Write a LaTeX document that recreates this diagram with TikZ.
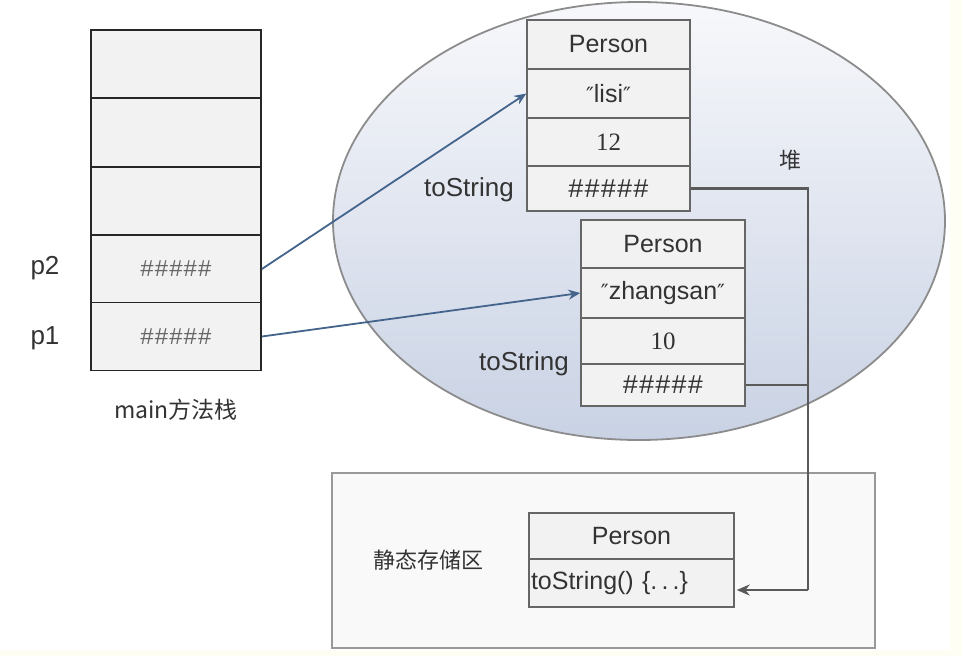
\documentclass[tikz,border=0pt]{standalone}
\usepackage{fontspec}
\setmainfont{Liberation Sans}
\newfontfamily\cjk{Noto Sans CJK SC}
\newfontfamily\numf{Liberation Serif}
\newfontfamily\monof{Liberation Mono}
\newfontfamily\djv{DejaVu Sans}
\usetikzlibrary{arrows.meta}
\definecolor{cellfill}{HTML}{F2F2F2}
\definecolor{celldraw}{HTML}{666666}
\definecolor{bluearrow}{HTML}{44648C}
\definecolor{graywire}{HTML}{5A5A5A}
\definecolor{ellbot}{HTML}{C9D2E4}
\definecolor{elltop}{HTML}{F7F8FB}
\definecolor{txt}{HTML}{333333}
\tikzset{
  cell/.style={draw=celldraw, line width=1.4pt, fill=cellfill, inner sep=0pt, text=txt, font=\fontsize{25}{28}\selectfont},
  hashcell/.style={cell, font=\monof\fontsize{27}{29}\selectfont},
  numcell/.style={cell, font=\numf\fontsize{25}{27}\selectfont},
  stackcell/.style={draw=black!85, line width=1.8pt, fill=cellfill, inner sep=0pt, minimum width=170pt, minimum height=68pt, font=\monof\fontsize{24}{26}\selectfont, text=black!60},
  lbl/.style={text=txt, font=\fontsize{26}{29}\selectfont},
  cjklbl/.style={text=txt, font=\cjk\fontsize{22}{26}\selectfont},
  bluearr/.style={draw=bluearrow, line width=1.8pt, -{Stealth[length=12pt,width=10pt]}},
  grayarr/.style={draw=graywire, line width=2.4pt},
}
\begin{document}
\begin{tikzpicture}[x=1pt,y=-1pt]
\useasboundingbox (0,0) rectangle (962,656);
\fill[white] (0,0) rectangle (962,656);
\fill[yellow!4] (950,0) rectangle (962,656);
\fill[yellow!4] (0,650) rectangle (962,656);
% heap ellipse
\shade[top color=elltop, bottom color=ellbot, draw=gray!90, line width=1.8pt] (639,221) ellipse [x radius=306, y radius=219];
% static area
\node[draw=gray!80, line width=1.4pt, fill=gray!5, minimum width=543pt, minimum height=175pt, inner sep=0pt] (static) at (603.5,560.5) {};
% stack
\node[stackcell] (s5) at (176,64) {};
\node[stackcell] (s4) at (176,132.5) {};
\node[stackcell] (s3) at (176,201) {};
\node[stackcell] (s2) at (176,269) {\#\#\#\#\#};
\node[stackcell] (s1) at (176,336.5) {\#\#\#\#\#};
\node[lbl] (p2) at (45,268) {p2};
\node[lbl] (p1) at (45,338) {p1};
\node[cjklbl, font=\cjk\fontsize{23}{26}\selectfont] (mainlbl) at (176,410) {main方法栈};
% person 1
\node[cell, minimum width=163pt, minimum height=49pt] (a1) at (608.5,44.5) {Person};
\node[cell, minimum width=163pt, minimum height=49pt] (a2) at (608.5,93.5) {{\djv\fontsize{21}{23}\selectfont ″}lisi{\djv\fontsize{21}{23}\selectfont ″}};
\node[numcell, minimum width=163pt, minimum height=48pt] (a3) at (608.5,142) {12};
\node[hashcell, minimum width=163pt, minimum height=45pt] (a4) at (608.5,188.5) {\#\#\#\#\#};
\node[lbl] (ts1) at (469,190) {toString};
\node[cjklbl] (dui) at (790,160) {堆};
% person 2
\node[cell, minimum width=164pt, minimum height=48pt] (b1) at (663,244) {Person};
\node[cell, minimum width=164pt, minimum height=50pt] (b2) at (663,293) {{\djv\fontsize{21}{23}\selectfont ″}zhangsan{\djv\fontsize{21}{23}\selectfont ″}};
\node[numcell, minimum width=164pt, minimum height=46pt] (b3) at (663,341) {10};
\node[hashcell, minimum width=164pt, minimum height=42pt] (b4) at (663,385) {\#\#\#\#\#};
\node[lbl] (ts2) at (524,364) {toString};
% static person
\node[cell, minimum width=205pt, minimum height=46pt] (c1) at (631.5,536) {Person};
\node[cell, minimum width=205pt, minimum height=48pt, text width=201pt, align=left] (c2) at (631.5,583) {toString() \{.\,.\,.\}};
\node[cjklbl] (jt) at (428,560) {静态存储区};
% arrows
\draw[bluearr] (s2.east) -- (a2.west);
\draw[bluearr] (s1.east) -- (b2.west);
\coordinate (j1) at (808,188.5);
\coordinate (j2) at (808,590);
\draw[grayarr] (a4.east) -- (j1) -- (j2);
\draw[grayarr] (b4.east) -- (b4.east -| j1);
\draw[graywire, line width=2.4pt, -{Stealth[length=13pt,width=11pt,open]}] (j2) -- ([xshift=2pt]c2.east |- j2);
\end{tikzpicture}
\end{document}
